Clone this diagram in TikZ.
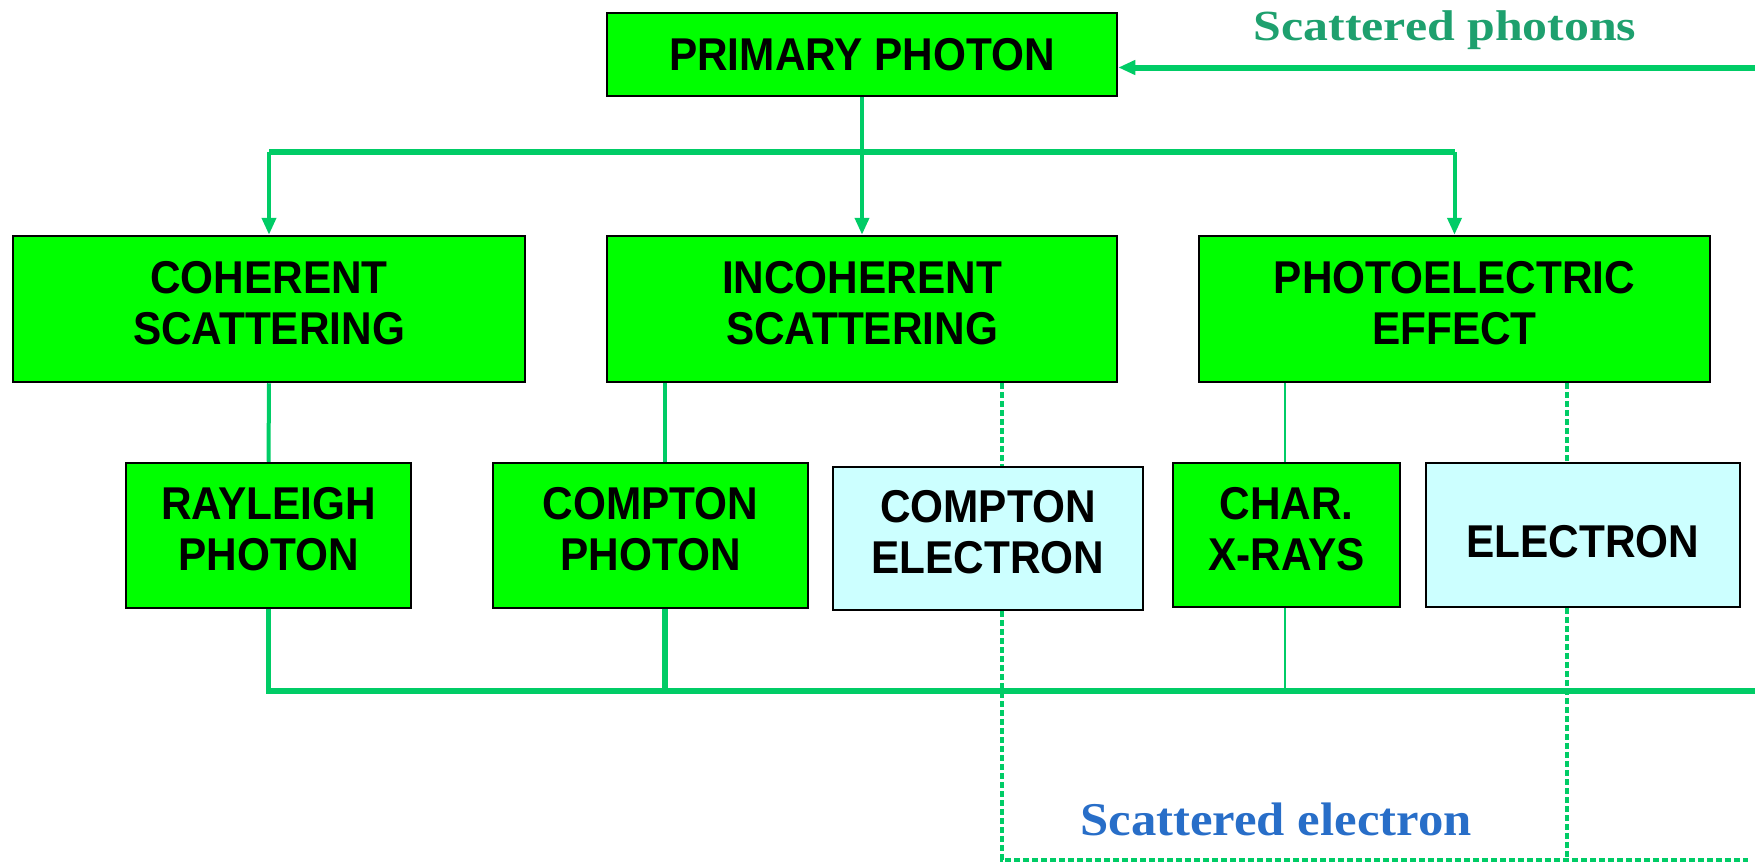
\documentclass[tikz,border=0pt]{standalone}
\usepackage{fontspec}
\setmainfont{Liberation Sans}
\newfontfamily\boxfont[FakeStretch=0.92]{Liberation Sans Bold}
\newfontfamily\photfont[FakeStretch=1.16]{Liberation Serif Bold}
\newfontfamily\elfont[FakeStretch=1.08]{Liberation Serif Bold}
\usetikzlibrary{arrows.meta}
\definecolor{boxgreen}{RGB}{0,255,0}
\definecolor{lightcyan}{RGB}{204,255,255}
\definecolor{linegreen}{RGB}{0,204,102}
\definecolor{photxt}{RGB}{30,160,110}
\definecolor{eltxt}{RGB}{40,110,200}
\newcommand\mylow{\rule[-13pt]{0pt}{13pt}}
\newcommand\myhigh{\rule{0pt}{46pt}}
\begin{document}
\begin{tikzpicture}[x=1pt,y=-1pt,
 box/.style={draw=black, line width=2.5pt, inner sep=0pt, align=center,
   font=\boxfont\fontsize{46}{51}\selectfont},
 gbox/.style={box, fill=boxgreen},
 cbox/.style={box, fill=lightcyan},
 conn/.style={draw=linegreen, line width=4pt},
 bar/.style={draw=linegreen, line width=5.5pt},
 thinconn/.style={draw=linegreen, line width=2.5pt},
 dconn/.style={draw=linegreen, line width=4.5pt, dash pattern=on 6pt off 3pt},
 toparrow/.style={draw=linegreen, line width=6pt},
 arr/.style={-{Triangle[length=17pt,width=14pt]}},
 lab/.style={inner sep=0pt, anchor=base}
]
\useasboundingbox (0,0) rectangle (1755,865);

% boxes
\node[gbox, minimum width=510pt, minimum height=83pt] (prim) at (862,54.5) {PRIMARY PHOTON};
\node[gbox, minimum width=512pt, minimum height=146pt] (coh) at (269,309) {COHERENT\\SCATTERING\mylow};
\node[gbox, minimum width=510pt, minimum height=146pt] (inc) at (862,309) {INCOHERENT\\SCATTERING\mylow};
\node[gbox, minimum width=511pt, minimum height=146pt] (photo) at (1454.5,309) {PHOTOELECTRIC\\EFFECT\mylow};
\node[gbox, minimum width=285pt, minimum height=145pt] (ray) at (268.5,535.5) {RAYLEIGH\\PHOTON\mylow};
\node[gbox, minimum width=315pt, minimum height=145pt] (cph) at (650.5,535.5) {COMPTON\\PHOTON\mylow};
\node[cbox, minimum width=310pt, minimum height=143pt] (cel) at (988,538.5) {COMPTON\\ELECTRON\mylow};
\node[gbox, minimum width=227pt, minimum height=144pt] (char) at (1286.5,535) {CHAR.\\X-RAYS\mylow};
\node[cbox, minimum width=314pt, minimum height=144pt] (elec) at (1583,535) {\myhigh ELECTRON};

% helper coordinates
\coordinate (barT) at (0,152);
\coordinate (barB) at (0,691);
\coordinate (barE) at (0,860);
\coordinate (redge) at (1755,0);
\coordinate (dend) at (1748,0);
\coordinate (tp) at (1755,67.5);
\coordinate (xa) at (665,0);
\coordinate (xb) at (1002,0);
\coordinate (xc) at (1285,0);
\coordinate (xd) at (1567,0);

% top distribution
\draw[conn] (prim.south) -- (prim.south |- barT);
\draw[bar] (coh.north |- barT) -- (photo.north |- barT);
\draw[conn,arr] (prim.south |- barT) -- (inc.north);
\draw[conn,arr] (coh.north |- barT) -- (coh.north);
\draw[conn,arr] (photo.north |- barT) -- (photo.north);

% second level
\draw[conn] (coh.south) -- (ray.north);
\draw[conn] (inc.south -| xa) -- (cph.north -| xa);
\draw[dconn] (inc.south -| xb) -- (cel.north -| xb);
\draw[thinconn] (photo.south -| xc) -- (char.north -| xc);
\draw[dconn] (photo.south -| xd) -- (elec.north -| xd);

% scattered photons collection
\draw[bar] (ray.south) |- (barB -| redge);
\draw[bar] (cph.south -| xa) -- (xa |- barB);
\draw[thinconn] (char.south -| xc) -- (xc |- barB);
\draw[toparrow,arr] (tp) -- (prim.east |- tp);

% scattered electron collection
\draw[dconn] (cel.south -| xb) |- (barE -| dend);
\draw[dconn] (elec.south -| xd) -- (xd |- barE);

% labels
\node[lab, text=photxt, font=\photfont\fontsize{43}{48}\selectfont] (lp) at (1445,40) {Scattered photons};
\node[lab, text=eltxt, font=\elfont\fontsize{47}{52}\selectfont] (le) at (1276,835) {Scattered electron};
\end{tikzpicture}
\end{document}
